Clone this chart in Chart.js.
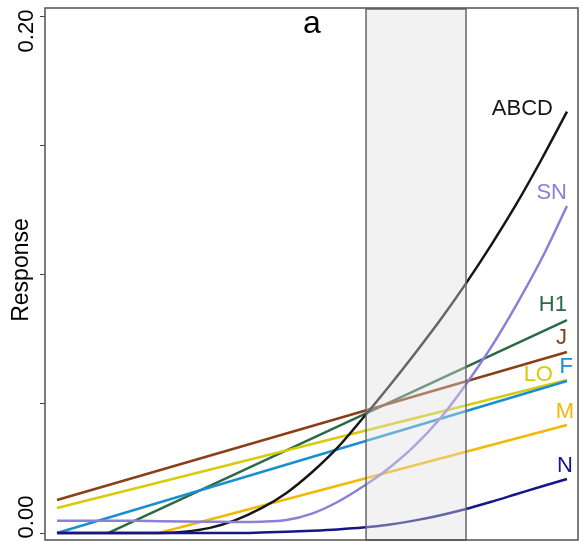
<!DOCTYPE html>
<html>
<head>
<meta charset="utf-8">
<script src="https://cdn.jsdelivr.net/npm/chart.js@4.4.0/dist/chart.umd.min.js"></script>
<style>
  html, body { margin: 0; padding: 0; background: #fff; }
</style>
</head>
<body>
<canvas id="myChart" width="580" height="547"></canvas>
<script>
// x positions (arbitrary units, 0..100) shared by all series
const xs = [0, 5, 10, 15, 20, 25, 30, 35, 40, 45, 50, 55, 60, 65, 70, 75, 80, 85, 90, 95, 100];

// curved responses
const ABCD = [0, 0, 0, 0, 0, 0.0005, 0.002, 0.005, 0.0095, 0.0155, 0.0235, 0.033, 0.0445, 0.0565, 0.069, 0.082, 0.096, 0.111, 0.127, 0.1445, 0.163];
const SN = [0.0047, 0.0047, 0.0047, 0.0047, 0.0046, 0.0045, 0.0044, 0.0043, 0.0044, 0.005, 0.0075, 0.012, 0.018, 0.025, 0.0335, 0.044, 0.057, 0.0715, 0.088, 0.106, 0.1265];
const N = [0, 0, 0, 0, 0, 0, 0, 0, 0.0002, 0.0005, 0.0009, 0.0014, 0.0021, 0.0032, 0.0048, 0.0068, 0.0092, 0.012, 0.015, 0.018, 0.0209];

// straight responses (only start / end known, gaps are spanned)
const _ = null;
const H1 = [_, _, 0, _, _, _, _, _, _, _, _, _, _, _, _, _, _, _, _, _, 0.0824];
const J  = [0.0128, _, _, _, _, _, _, _, _, _, _, _, _, _, _, _, _, _, _, _, 0.070];
const F  = [0, _, _, _, _, _, _, _, _, _, _, _, _, _, _, _, _, _, _, _, 0.0588];
const LO = [0.0097, _, _, _, _, _, _, _, _, _, _, _, _, _, _, _, _, _, _, _, 0.0592];
const M  = [_, _, _, _, 0, _, _, _, _, _, _, _, _, _, _, _, _, _, _, _, 0.0418];

// highlighted window on x
const windowFrom = 60.6;
const windowTo = 80.2;

const yTicks = [0, 0.05, 0.10, 0.15, 0.20];
const yTickLabels = ['0.00', '', '', '', '0.20'];

// drawing order: first one is on top
const seriesNames = ['N', 'SN', 'ABCD', 'M', 'F', 'LO', 'J', 'H1'];
const seriesValues = [N, SN, ABCD, M, F, LO, J, H1];
const seriesColors = ['#16168a', '#8a80d8', '#161616', '#f5b800', '#1a8fd0', '#d6cc0a', '#8b3f17', '#2c6a46'];

// label placement relative to the last point of each line (dx, dy, align)
const labelOffsets = {
  ABCD: [-14, -3, 'right'],
  SN: [0, -13, 'right'],
  H1: [0, -15, 'right'],
  J: [0, -14, 'right'],
  F: [6, -14, 'right'],
  LO: [-14, -5, 'right'],
  M: [7, -13.5, 'right'],
  N: [6, -13.5, 'right']
};

const FONT = '"Liberation Sans", Arial, sans-serif';

const datasets = seriesNames.map((name, i) => ({
  label: name,
  data: xs.map((x, j) => ({ x: x, y: seriesValues[i][j] })),
  borderColor: seriesColors[i],
  borderWidth: 2.5,
  pointRadius: 0,
  fill: false,
  spanGaps: true,
  cubicInterpolationMode: 'monotone'
}));

// grey window drawn over the lines, plus labels, frame and texts
const decorations = {
  id: 'decorations',
  afterDatasetsDraw(chart) {
    const { ctx, chartArea, scales } = chart;
    const x = scales.x, y = scales.y;

    // translucent window
    const x1 = x.getPixelForValue(windowFrom);
    const x2 = x.getPixelForValue(windowTo);
    ctx.save();
    ctx.fillStyle = 'rgba(222,222,222,0.4)';
    ctx.fillRect(x1, chartArea.top + 1, x2 - x1, chartArea.bottom - chartArea.top - 1);
    ctx.strokeStyle = '#666';
    ctx.lineWidth = 1.5;
    ctx.strokeRect(x1, chartArea.top + 1, x2 - x1, chartArea.bottom - chartArea.top - 1);
    ctx.restore();

    // line labels
    ctx.save();
    ctx.font = '22px ' + FONT;
    ctx.textBaseline = 'middle';
    seriesNames.forEach((name, i) => {
      const vals = seriesValues[i];
      const px = x.getPixelForValue(xs[xs.length - 1]);
      const py = y.getPixelForValue(vals[vals.length - 1]);
      const off = labelOffsets[name];
      ctx.fillStyle = seriesColors[i];
      ctx.textAlign = off[2];
      ctx.fillText(name, px + off[0], py + off[1]);
    });
    ctx.restore();

    // frame
    ctx.save();
    ctx.strokeStyle = '#505050';
    ctx.lineWidth = 1.5;
    ctx.strokeRect(chartArea.left, chartArea.top, chartArea.right - chartArea.left, chartArea.bottom - chartArea.top);
    ctx.restore();

    // panel letter
    ctx.save();
    ctx.fillStyle = '#000';
    ctx.font = '32px ' + FONT;
    ctx.textAlign = 'center';
    ctx.textBaseline = 'alphabetic';
    ctx.fillText('a', 312, 33);
    ctx.restore();

    // rotated y tick labels and axis title
    ctx.save();
    ctx.fillStyle = '#000';
    ctx.font = '22px ' + FONT;
    ctx.textAlign = 'center';
    ctx.textBaseline = 'alphabetic';
    yTicks.forEach((v, i) => {
      if (!yTickLabels[i]) return;
      let py = y.getPixelForValue(v);
      // keep the labels inside the panel like the original
      if (i === 0) py -= 16;
      if (i === yTicks.length - 1) py += 15;
      ctx.save();
      ctx.translate(33, py);
      ctx.rotate(-Math.PI / 2);
      ctx.fillText(yTickLabels[i], 0, 0);
      ctx.restore();
    });
    ctx.font = '23px ' + FONT;
    ctx.translate(28, 270);
    ctx.rotate(-Math.PI / 2);
    ctx.fillText('Response', 0, 0);
    ctx.restore();
  }
};

const ctx = document.getElementById('myChart').getContext('2d');
const myChart = new Chart(ctx, {
  type: 'line',
  data: { datasets: datasets },
  options: {
    responsive: false,
    animation: false,
    layout: { padding: { top: 8, right: 2, bottom: 7, left: 0 } },
    plugins: { legend: { display: false }, tooltip: { enabled: false } },
    scales: {
      x: {
        type: 'linear',
        min: -2.35,
        max: 102.16,
        display: false
      },
      y: {
        type: 'linear',
        min: -0.0027,
        max: 0.2031,
        afterBuildTicks: scale => { scale.ticks = yTicks.map(v => ({ value: v })); },
        afterFit: scale => { scale.width = 45; },
        ticks: { display: false },
        border: { display: false },
        grid: { drawOnChartArea: false, drawTicks: true, tickLength: 5, color: '#444', lineWidth: 1 }
      }
    }
  },
  plugins: [decorations]
});
</script>
</body>
</html>
